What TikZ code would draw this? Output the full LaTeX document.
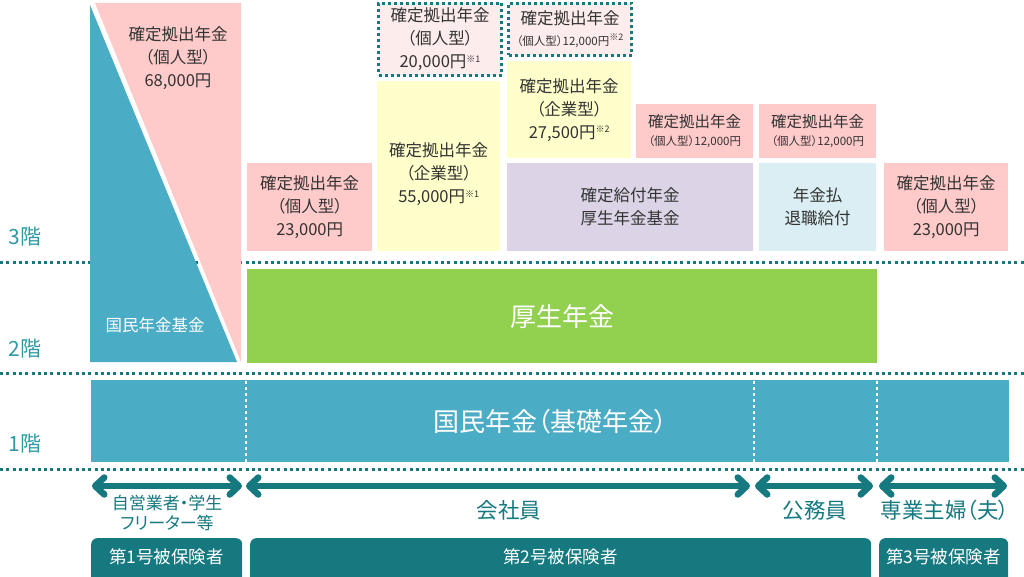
\documentclass[tikz,border=0pt]{standalone}
\usepackage{fontspec}
\setmainfont{Noto Sans CJK JP}[RawFeature=+palt]
\usetikzlibrary{arrows.meta,positioning}

\definecolor{tealdark}{HTML}{15797F}
\definecolor{teallabel}{HTML}{2F9AA3}
\definecolor{kokumin}{HTML}{4BACC6}
\definecolor{kosei}{HTML}{92D050}
\definecolor{dcpink}{HTML}{FFCACA}
\definecolor{dcyellow}{HTML}{FFFFCC}
\definecolor{dblilac}{HTML}{DCD4E6}
\definecolor{haraiblue}{HTML}{DAEEF3}
\definecolor{optpink}{HTML}{FDECEC}
\definecolor{txtgray}{HTML}{333333}

\tikzset{
  plan/.style={inner sep=0pt, anchor=north west, align=center, text=txtgray,
    font=\fontsize{16.5}{23}\selectfont},
  pinkplan/.style={plan, fill=dcpink},
  yellowplan/.style={plan, fill=dcyellow},
  optplan/.style={plan, fill=optpink, draw=tealdark, line width=3pt,
    dash pattern=on 3pt off 3pt},
  floorbar/.style={inner sep=0pt, anchor=north west, text=white,
    font=\fontsize{26}{30}\selectfont},
  floorline/.style={tealdark, line width=3pt, dash pattern=on 3pt off 3.3pt},
  splitline/.style={white, line width=2pt, dash pattern=on 3pt off 3pt},
  floorlabel/.style={anchor=west, text=teallabel, font=\fontsize{21}{24}\selectfont},
  span/.style={draw=tealdark, line width=6.5pt,
    >={Straight Barb[length=9pt,width=17pt,round]}, <->},
  who/.style={text=tealdark, align=center, font=\fontsize{21.5}{24}\selectfont},
  ribbon/.style={fill=tealdark, rounded corners=6pt, anchor=north west,
    minimum height=60pt, inner sep=0pt},
  ribtext/.style={text=white, font=\fontsize{17.5}{20}\selectfont, inner sep=0pt}
}
\newcommand{\kome}[1]{\raisebox{5.5pt}{\fontsize{9}{9}\selectfont ※#1}}
\newcommand{\smallline}[1]{{\fontsize{11.5}{14}\selectfont #1}}

\begin{document}
\begin{tikzpicture}[x=1pt, y=-1pt]
    \useasboundingbox (0,0) rectangle (1024,577);
    \clip (0,0) rectangle (1024,577);

    % floors
    \coordinate (f3L) at (0,262); \coordinate (f3R) at (1024,262);
    \coordinate (f2L) at (0,373); \coordinate (f2R) at (1024,373);
    \coordinate (f1L) at (0,469); \coordinate (f1R) at (1024,469);
    \draw[floorline] (f3L) -- (f3R);
    \draw[floorline] (f2L) -- (f2R);
    \draw[floorline] (f1L) -- (f1R);

    \node[floorlabel] (lv3) at (5,237) {3階};
    \node[floorlabel] (lv2) at (5,349) {2階};
    \node[floorlabel] (lv1) at (5,444) {1階};

    % self-employed column
    \fill[kokumin] (90,5) -- (90,362) -- (237,362) -- cycle;
    \fill[dcpink] (95,3) -- (241,3) -- (241,362) -- cycle;
    \node[plan, anchor=center] (ideco68) at (178,58) {確定拠出年金\\（個人型）\\68,000円};
    \node[text=white, font=\fontsize{16.5}{18}\selectfont] (kikin) at (155,325) {国民年金基金};

    % 3rd floor
    \node[pinkplan, minimum width=125pt, minimum height=88pt] (ideco23a) at (247,163)
        {確定拠出年金\\（個人型）\\23,000円};
    \node[yellowplan, minimum width=123pt, minimum height=170pt] (dc55) at (377,81)
        {\\[7pt]確定拠出年金\\（企業型）\\55,000円\kome{1}};
    \node[optplan, minimum width=123pt, minimum height=72pt] (ideco20) at (377,2)
        {確定拠出年金\\（個人型）\\20,000円\kome{1}};
    \node[optplan, minimum width=123pt, minimum height=52pt] (ideco12opt) at (507,2)
        {確定拠出年金\\[-2pt]\smallline{（個人型）12,000円\kome{2}}};
    \node[yellowplan, minimum width=124pt, minimum height=97pt] (dc27) at (507,61)
        {確定拠出年金\\（企業型）\\27,500円\kome{2}};
    \node[plan, fill=dblilac, minimum width=246pt, minimum height=88pt] (db) at (507,163)
        {確定給付年金\\厚生年金基金};
    \node[pinkplan, minimum width=117pt, minimum height=54pt, font=\fontsize{15.5}{19}\selectfont] (ideco12a) at (636,104)
        {確定拠出年金\\[-1pt]\smallline{（個人型）12,000円}};
    \node[pinkplan, minimum width=117pt, minimum height=54pt, font=\fontsize{15.5}{19}\selectfont] (ideco12b) at (759,104)
        {確定拠出年金\\[-1pt]\smallline{（個人型）12,000円}};
    \node[plan, fill=haraiblue, minimum width=117pt, minimum height=88pt] (harai) at (759,163)
        {年金払\\退職給付};
    \node[pinkplan, minimum width=124pt, minimum height=88pt] (ideco23b) at (884,163)
        {確定拠出年金\\（個人型）\\23,000円};

    % 2nd and 1st floor
    \node[floorbar, fill=kosei, minimum width=630pt, minimum height=94pt] (kosei) at (247,269) {厚生年金};
    \node[floorbar, fill=kokumin, minimum width=918pt, minimum height=82pt] (kiso) at (91,380) {国民年金（基礎年金）};
    \foreach \sx [count=\i] in {246,754,877} {
        \coordinate (cut\i a) at (\sx,381);
        \coordinate (cut\i b) at (\sx,462);
        \draw[splitline] (cut\i a) -- (cut\i b);
    }

    % who is covered
    \coordinate (s1a) at (92,486);  \coordinate (s1b) at (242,486);
    \coordinate (s2a) at (246,486); \coordinate (s2b) at (750,486);
    \coordinate (s3a) at (755,486); \coordinate (s3b) at (873,486);
    \coordinate (s4a) at (879,486); \coordinate (s4b) at (1007,486);
    \draw[span] (s1a) -- (s1b);
    \draw[span] (s2a) -- (s2b);
    \draw[span] (s3a) -- (s3b);
    \draw[span] (s4a) -- (s4b);

    \node[who, font=\fontsize{17}{20.5}\selectfont] (jiei) at (167,513) {自営業者・学生\\フリーター等};
    \node[who] (kaisha) at (509,510) {会社員};
    \node[who] (koumu) at (815,510) {公務員};
    \node[who] (sengyo) at (945,510) {専業主婦（夫）};

    \node[ribbon, minimum width=151pt] (gp1) at (91,538) {};
    \node[ribbon, minimum width=621pt] (gp2) at (250,538) {};
    \node[ribbon, minimum width=129pt] (gp3) at (879,538) {};
    \node[ribtext] (gp1t) at (166.5,557) {第1号被保険者};
    \node[ribtext] (gp2t) at (560.5,557) {第2号被保険者};
    \node[ribtext] (gp3t) at (943.5,557) {第3号被保険者};
\end{tikzpicture}
\end{document}
